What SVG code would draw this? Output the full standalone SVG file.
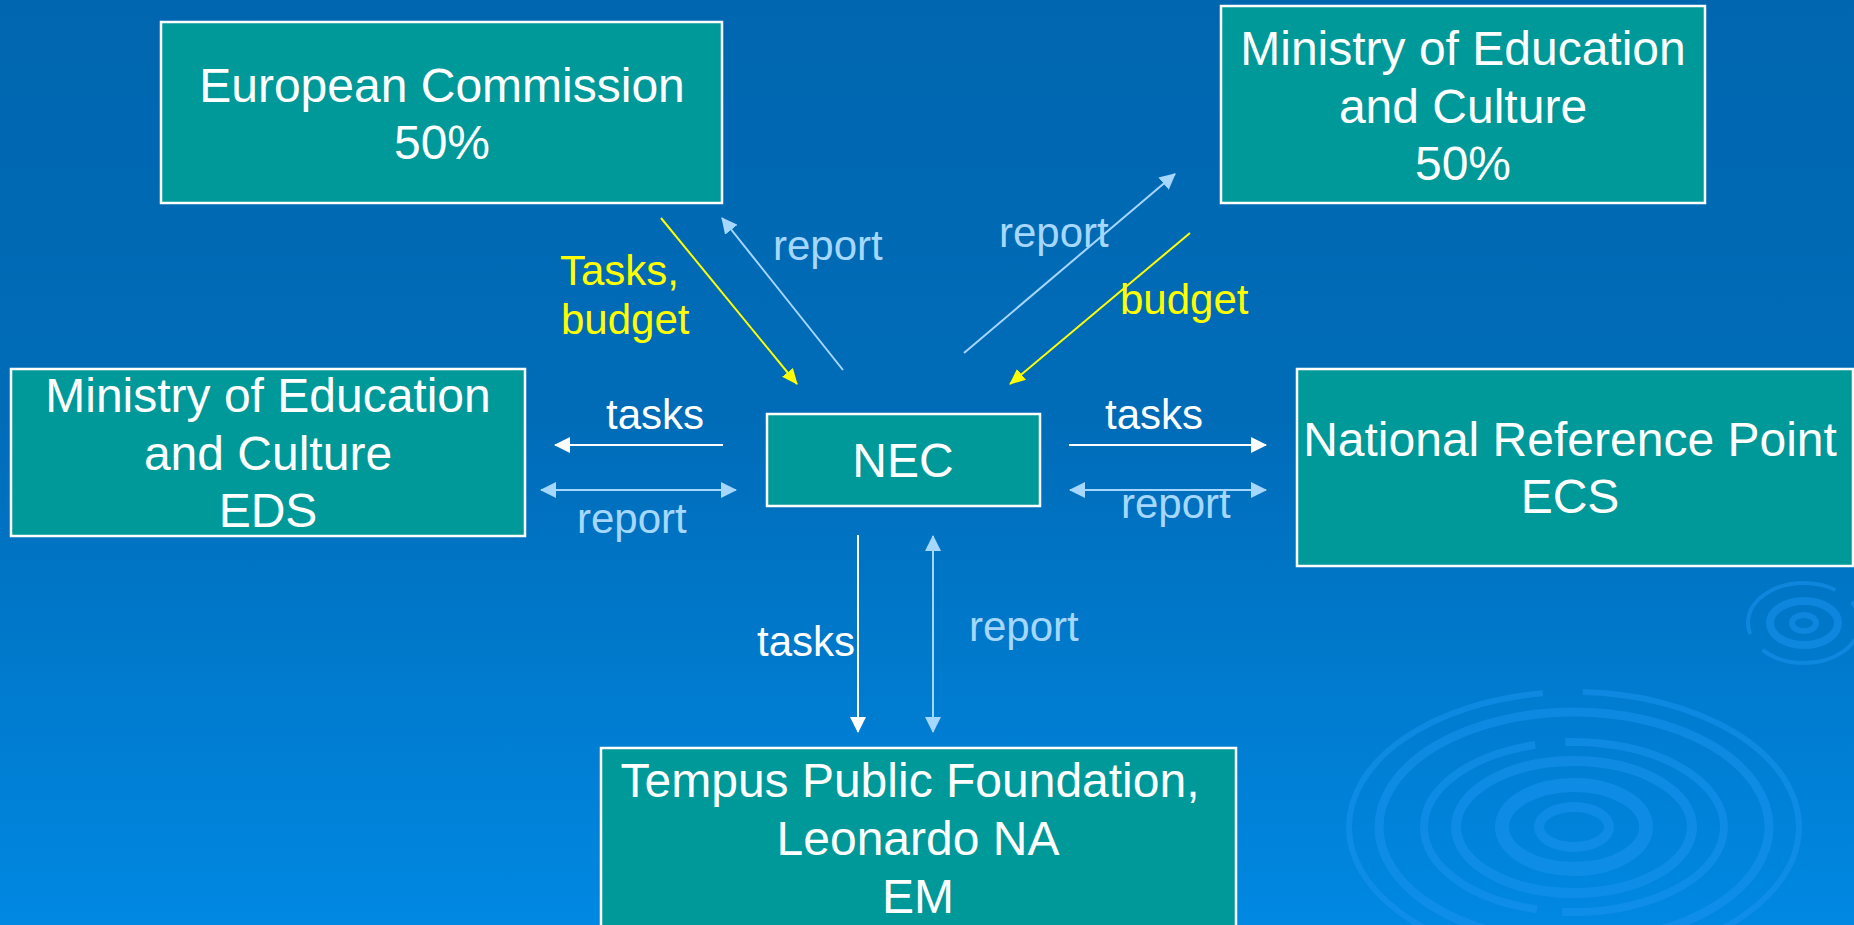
<svg xmlns="http://www.w3.org/2000/svg" width="1854" height="925" viewBox="0 0 1854 925">
<style>
.node rect{fill:#009999;stroke:#ffffff;stroke-width:2.5}
.node text{font-family:"Liberation Sans",Arial,sans-serif;font-size:48px;fill:#ffffff;text-anchor:middle}
.lbl{font-family:"Liberation Sans",Arial,sans-serif;font-size:42px}
.w{fill:#ffffff}
.b{fill:#a6d8ff}
.y{fill:#ffff00}
.cw{stroke:#ffffff;stroke-width:2;fill:none}
.cb{stroke:#a6d8ff;stroke-width:2;fill:none}
.cy{stroke:#ffff00;stroke-width:2;fill:none}
.rip{fill:none;stroke:#1a93ee;stroke-opacity:0.55}
</style>
<defs>
<linearGradient id="bg" x1="0" y1="0" x2="0" y2="1">
<stop offset="0" stop-color="#0066b0"/>
<stop offset="0.45" stop-color="#006cb8"/>
<stop offset="1" stop-color="#0088e2"/>
</linearGradient>
<marker id="aw" viewBox="0 0 16 16" refX="15" refY="8" markerWidth="16" markerHeight="16" markerUnits="userSpaceOnUse" orient="auto-start-reverse"><path d="M0,0 L16,8 L0,16 z" fill="#ffffff"/></marker>
<marker id="ab" viewBox="0 0 16 16" refX="15" refY="8" markerWidth="16" markerHeight="16" markerUnits="userSpaceOnUse" orient="auto-start-reverse"><path d="M0,0 L16,8 L0,16 z" fill="#a6d8ff"/></marker>
<marker id="ay" viewBox="0 0 16 16" refX="15" refY="8" markerWidth="16" markerHeight="16" markerUnits="userSpaceOnUse" orient="auto-start-reverse"><path d="M0,1 L16,8 L0,15 z" fill="#ffff00"/></marker>
</defs>
<rect x="0" y="0" width="1854" height="925" fill="url(#bg)"/>
<g id="ripples">
<ellipse class="rip" cx="1574" cy="827" rx="225" ry="135" stroke-width="6" stroke-dasharray="300 30 500 40"/>
<ellipse class="rip" cx="1574" cy="827" rx="195" ry="115" stroke-width="9"/>
<ellipse class="rip" cx="1574" cy="827" rx="150" ry="85" stroke-width="8" stroke-dasharray="200 25 300 30"/>
<ellipse class="rip" cx="1574" cy="827" rx="118" ry="66" stroke-width="10"/>
<ellipse class="rip" cx="1574" cy="827" rx="72" ry="42" stroke-width="14"/>
<ellipse class="rip" cx="1574" cy="827" rx="35" ry="20" stroke-width="10"/>
<ellipse class="rip" cx="1804" cy="623" rx="56" ry="40" stroke-width="4" stroke-dasharray="120 20"/>
<ellipse class="rip" cx="1804" cy="623" rx="34" ry="22" stroke-width="8"/>
<ellipse class="rip" cx="1804" cy="623" rx="12" ry="8" stroke-width="6"/>
</g>
<g id="connectors">
<line class="cy" x1="661" y1="218" x2="797" y2="384" marker-end="url(#ay)"/>
<line class="cb" x1="843" y1="370" x2="722" y2="218" marker-end="url(#ab)"/>
<line class="cb" x1="964" y1="353" x2="1175" y2="174" marker-end="url(#ab)"/>
<line class="cy" x1="1190" y1="233" x2="1010" y2="384" marker-end="url(#ay)"/>
<line class="cw" x1="723" y1="445" x2="555" y2="445" marker-end="url(#aw)"/>
<line class="cb" x1="541" y1="490" x2="736" y2="490" marker-start="url(#ab)" marker-end="url(#ab)"/>
<line class="cw" x1="1069" y1="445" x2="1266" y2="445" marker-end="url(#aw)"/>
<line class="cb" x1="1070" y1="490" x2="1266" y2="490" marker-start="url(#ab)" marker-end="url(#ab)"/>
<line class="cw" x1="858" y1="535" x2="858" y2="732" marker-end="url(#aw)"/>
<line class="cb" x1="933" y1="536" x2="933" y2="732" marker-start="url(#ab)" marker-end="url(#ab)"/>
<text class="lbl y" x="560" y="285">Tasks,</text>
<text class="lbl y" x="561" y="334">budget</text>
<text class="lbl b" x="773" y="260">report</text>
<text class="lbl b" x="999" y="247">report</text>
<text class="lbl y" x="1120" y="314">budget</text>
<text class="lbl w" x="606" y="429">tasks</text>
<text class="lbl b" x="577" y="533">report</text>
<text class="lbl w" x="1105" y="429">tasks</text>
<text class="lbl b" x="1121" y="518">report</text>
<text class="lbl w" x="757" y="656">tasks</text>
<text class="lbl b" x="969" y="641">report</text>
</g>
<g id="ec" class="node">
<rect x="161" y="22" width="561" height="181"/>
<text x="442" y="102">European Commission</text>
<text x="442" y="159">50%</text>
</g>
<g id="moe-top" class="node">
<rect x="1221" y="6" width="484" height="197"/>
<text x="1463" y="65">Ministry of Education</text>
<text x="1463" y="123">and Culture</text>
<text x="1463" y="180">50%</text>
</g>
<g id="moe-eds" class="node">
<rect x="11" y="369" width="514" height="167"/>
<text x="268" y="412">Ministry of Education</text>
<text x="268" y="470">and Culture</text>
<text x="268" y="527">EDS</text>
</g>
<g id="nec" class="node">
<rect x="767" y="414" width="273" height="92"/>
<text x="903" y="477">NEC</text>
</g>
<g id="nrp" class="node">
<rect x="1297" y="369" width="556" height="197"/>
<text x="1570" y="456">National Reference Point</text>
<text x="1570" y="513">ECS</text>
</g>
<g id="tempus" class="node">
<rect x="601" y="748" width="635" height="190"/>
<text x="910" y="797">Tempus Public Foundation,</text>
<text x="918" y="855">Leonardo NA</text>
<text x="918" y="913">EM</text>
</g>
</svg>
